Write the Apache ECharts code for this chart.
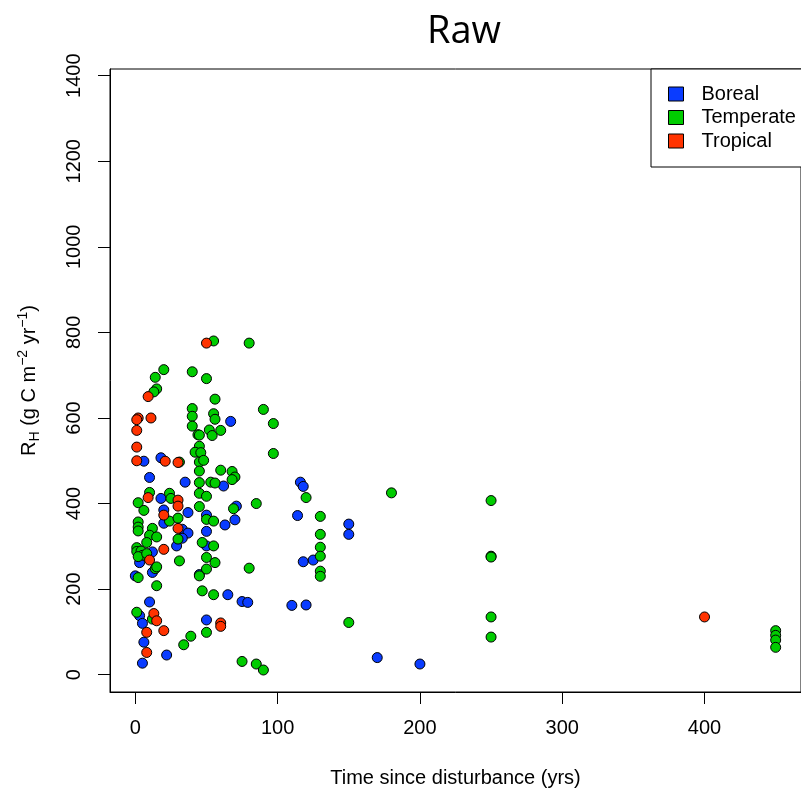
<!DOCTYPE html>
<html>
<head>
<meta charset="utf-8">
<title>Raw</title>
<script src="https://cdn.jsdelivr.net/npm/echarts@6/dist/echarts.min.js"></script>
<style>
  html, body { margin: 0; padding: 0; background: #fff; }
  #chart { width: 801px; height: 793px; }
</style>
</head>
<body>
<div id="chart"></div>
<script>
// [time since disturbance (yrs), RH (g C m-2 yr-1)]
const boreal = [
  [67, 592], [6, 499], [18, 507], [10, 461], [35, 450], [62, 441], [18, 412],
  [20, 385], [20, 354], [37, 379], [50, 373], [63, 350], [70, 362], [71, 394],
  [33, 340], [37, 331], [33, 319], [50, 335], [50, 301], [29, 301], [3, 262],
  [12, 287], [12, 239], [0, 231], [65, 187], [75, 171], [79, 169], [10, 170],
  [3, 138], [5, 120], [50, 128], [6, 76], [22, 46], [5, 27], [45, 234],
  [110, 162], [120, 163], [114, 372], [116, 450], [118, 440], [118, 264],
  [125, 268], [150, 352], [150, 328], [170, 40], [200, 25]
];
const temperate = [
  [55, 780], [80, 775], [20, 713], [14, 695], [40, 708], [50, 692], [15, 668],
  [13, 661], [56, 644], [90, 620], [40, 622], [40, 604], [55, 610], [56, 597],
  [97, 587], [40, 581], [44, 561], [45, 560], [52, 572], [54, 559], [60, 571],
  [45, 534], [42, 520], [46, 519], [97, 517], [31, 497], [45, 497], [48, 501],
  [45, 476], [60, 478], [68, 475], [70, 462], [68, 456], [45, 449], [53, 450],
  [56, 448], [45, 424], [50, 417], [10, 426], [24, 424], [25, 412], [2, 402],
  [6, 384], [24, 359], [30, 366], [45, 393], [50, 363], [55, 359], [69, 388],
  [85, 400], [12, 342], [10, 326], [15, 322], [8, 309], [2, 357], [2, 345],
  [2, 336], [1, 297], [1, 288], [4, 289], [5, 279], [2, 276], [8, 283],
  [14, 248], [15, 252], [2, 227], [15, 208], [31, 266], [30, 317], [47, 309],
  [55, 301], [50, 274], [56, 262], [50, 247], [45, 231], [80, 249], [47, 196],
  [55, 187], [1, 146], [12, 130], [50, 99], [39, 90], [34, 70], [75, 31],
  [85, 25], [90, 11], [120, 414], [130, 370], [130, 328], [130, 298],
  [130, 277], [130, 242], [130, 230], [150, 122], [180, 425], [250, 407],
  [250, 277], [250, 275], [250, 135], [250, 88], [450, 103], [450, 92],
  [450, 81], [450, 64]
];
const tropical = [
  [50, 775], [9, 650], [2, 600], [1, 596], [11, 600], [1, 571], [1, 532],
  [1, 500], [21, 499], [30, 496], [9, 414], [30, 408], [30, 394], [20, 373],
  [30, 342], [20, 293], [10, 268], [13, 143], [15, 126], [8, 99], [20, 103],
  [60, 121], [60, 113], [8, 52], [400, 135]
];

const xTicks = [0, 100, 200, 300, 400];
const yTicks = [0, 200, 400, 600, 800, 1000, 1200, 1400];
const groups = ['Boreal', 'Temperate', 'Tropical'];
const colors = ['#0a3cff', '#00cc00', '#ff3300'];

const font = 'Liberation Sans, Arial, sans-serif';

function makeSeries(name, data, i) {
  return {
    name,
    type: 'scatter',
    data,
    symbol: 'circle',
    symbolSize: 10,
    itemStyle: { color: colors[i], borderColor: '#000', borderWidth: 1, opacity: 1 },
    emphasis: { disabled: true },
  };
}

const option = {
  animation: false,
  backgroundColor: '#fff',
  title: {
    text: 'Raw',
    left: 459,
    top: 8,
    textAlign: 'center',
    textStyle: { fontFamily: 'Open Sans', fontSize: 38, fontWeight: 'normal', color: '#000' },
  },
  legend: {
    orient: 'vertical',
    left: 651,
    top: 69,
    padding: [15, 40, 16, 17],
    itemGap: 3.5,
    itemWidth: 15,
    itemHeight: 14,
    icon: 'rect',
    backgroundColor: '#fff',
    borderColor: '#000',
    borderWidth: 1,
    borderRadius: 0,
    selectedMode: false,
    itemStyle: { borderColor: '#000', borderWidth: 1 },
    textStyle: { fontFamily: font, fontSize: 20, lineHeight: 20, color: '#000', padding: [0, 0, 0, 13] },
    data: groups,
  },
  grid: {
    left: 110,
    top: 69,
    width: 698,
    height: 624,
    show: true,
    borderColor: '#000',
    borderWidth: 1,
    backgroundColor: 'transparent',
  },
  xAxis: {
    type: 'value',
    min: -17.8,
    max: 467.8,
    name: 'Time since disturbance (yrs)',
    nameLocation: 'middle',
    nameGap: 76,
    nameTextStyle: { fontFamily: font, fontSize: 20, color: '#000' },
    axisLine: { show: true, onZero: false, lineStyle: { color: '#000', width: 1 } },
    axisTick: { show: true, length: 12, customValues: xTicks, lineStyle: { color: '#000' } },
    axisLabel: { customValues: xTicks, margin: 26, fontFamily: font, fontSize: 20, color: '#000', formatter: (v) => String(v) },
    splitLine: { show: false },
  },
  yAxis: {
    type: 'value',
    min: -40.4,
    max: 1415.6,
    name: 'R{sub|H} (g C m{sup|−2} yr{sup|−1})',
    nameLocation: 'middle',
    nameRotate: 90,
    nameGap: 68,
    nameTextStyle: {
      fontFamily: font, fontSize: 20, color: '#000', lineHeight: 26,
      rich: {
        sub: { fontFamily: font, fontSize: 14, verticalAlign: 'bottom', lineHeight: 14, color: '#000' },
        sup: { fontFamily: font, fontSize: 14, verticalAlign: 'top', lineHeight: 14, color: '#000' },
      },
    },
    axisLine: { show: true, onZero: false, lineStyle: { color: '#000', width: 1 } },
    axisTick: { show: true, length: 12, customValues: yTicks, lineStyle: { color: '#000' } },
    axisLabel: { customValues: yTicks, rotate: 90, margin: 26, fontFamily: font, fontSize: 20, color: '#000', formatter: (v) => String(v) },
    splitLine: { show: false },
  },
  series: [
    makeSeries(groups[0], boreal, 0),
    makeSeries(groups[1], temperate, 1),
    makeSeries(groups[2], tropical, 2),
  ],
};

const chart = echarts.init(document.getElementById('chart'), null, { renderer: 'canvas' });
chart.setOption(option);
</script>
</body>
</html>
